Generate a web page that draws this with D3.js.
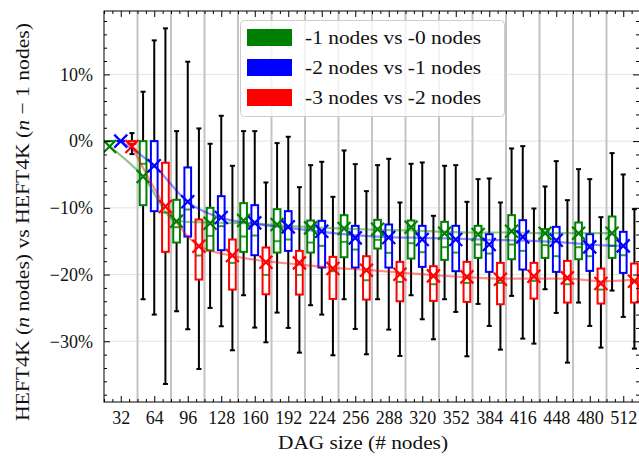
<!DOCTYPE html>
<html>
<head>
<meta charset="utf-8">
<script src="https://cdn.jsdelivr.net/npm/d3@7"></script>
<style>
  body { margin: 0; background: #fff; }
</style>
</head>
<body>
<div id="chart"></div>
<script>
// DAG sizes on the x axis, one group of three boxes per size
const sizes = [32, 64, 96, 128, 160, 192, 224, 256, 288, 320, 352, 384, 416, 448, 480, 512]
const separators = [48, 80, 112, 144, 176, 208, 240, 272, 304, 336, 368, 400, 432, 464, 496]
const yTicks = [10, 0, -10, -20, -30]
const seriesNames = ["-1 nodes vs -0 nodes", "-2 nodes vs -1 nodes", "-3 nodes vs -2 nodes"]
const seriesColors = ["#008000", "#0000ff", "#ff0000"]

// -1 nodes vs -0 nodes (values in %)
const greenLow  = [0, -23.7, -25.5, -25.0, -23.1, -25.7, -24.6, -23.7, -23.7, -23.1, -23.7, -24.4, -23.2, -22.2, -24.2, -22.4]
const greenQ1   = [0, -9.6, -15.2, -16.4, -16.6, -16.7, -16.7, -17.4, -16.1, -17.6, -17.8, -17.5, -17.7, -17.5, -17.7, -17.5]
const greenMed  = [0, -3.4, -12.9, -14.2, -14.3, -15.0, -15.2, -15.1, -14.8, -15.3, -15.9, -15.5, -15.5, -15.6, -15.9, -15.7]
const greenQ3   = [0, 0, -8.8, -10.0, -9.3, -10.2, -11.9, -11.1, -11.8, -11.9, -12.1, -12.7, -11.1, -13.2, -12.2, -11.3]
const greenHigh = [0, 7.4, 1.5, -0.4, 1.5, -0.3, -3.6, -1.4, -3.6, -3.4, -3.7, -5.7, -1.1, -6.8, -4.2, -1.8]
const greenMean = [-0.8, -5.3, -12.0, -12.3, -11.9, -12.5, -13.0, -13.1, -13.2, -12.9, -13.8, -14.0, -13.5, -13.8, -13.8, -13.8]
const greenTrend = [-0.8, -5.3, -12.0, -12.2, -12.3, -12.6, -12.9, -13.1, -13.3, -13.4, -13.6, -13.7, -13.7, -13.8, -13.8, -13.8]

// -2 nodes vs -1 nodes
const blueLow  = [0, -26.0, -28.2, -27.75, -27.95, -28.0, -26.0, -28.15, -28.25, -26.7, -25.6, -27.7, -29.6, -25.75, -27.7, -26.35]
const blueQ1   = [0, -10.5, -14.3, -16.35, -17.1, -16.45, -18.95, -18.95, -18.95, -18.85, -19.5, -19.6, -19.25, -19.6, -19.45, -19.75]
const blueMed  = [0, 0, -10.25, -12.75, -14.15, -14.75, -15.7, -16.25, -16.75, -16.65, -16.7, -16.85, -16.45, -17.25, -17.25, -17.1]
const blueQ3   = [0, 0, -3.95, -8.25, -9.6, -10.5, -11.95, -12.7, -12.5, -12.7, -12.7, -13.95, -11.85, -12.85, -13.95, -13.6]
const blueHigh = [0, 15.1, 11.9, 3.8, 1.5, 0.65, -3.1, -3.45, -2.65, -3.2, -3.6, -5.6, -0.75, -3.0, -5.7, -5.0]
const blueMean = [0, -3.7, -9.1, -11.45, -12.25, -12.85, -13.5, -14.5, -14.45, -14.75, -14.75, -15.5, -14.35, -14.85, -15.85, -15.7]
const blueTrend = [0, -3.7, -9.1, -11.5, -12.4, -13.0, -13.6, -14.1, -14.4, -14.5, -14.6, -14.8, -14.9, -15.1, -15.5, -15.7]

// -3 nodes vs -2 nodes
const redLow  = [-1.95, -36.4, -34.15, -31.35, -30.15, -31.7, -32.1, -31.95, -32.2, -29.7, -32.25, -31.25, -30.35, -33.2, -30.95, -31.1]
const redQ1   = [-0.4, -16.6, -20.75, -22.25, -22.95, -23.0, -23.65, -23.75, -24.0, -23.95, -24.1, -24.45, -23.6, -24.2, -24.35, -24.2]
const redMed  = [0, -10.7, -17.15, -18.25, -20.05, -20.05, -19.5, -20.85, -21.1, -21.45, -21.25, -21.25, -20.95, -21.45, -22.25, -21.1]
const redQ3   = [0, -3.25, -11.75, -14.75, -15.95, -16.45, -17.35, -17.25, -18.1, -18.75, -18.1, -18.25, -18.25, -17.95, -19.1, -18.35]
const redHigh = [1.2, 16.9, 1.9, -3.7, -6.2, -6.9, -8.35, -7.5, -9.2, -11.2, -9.1, -9.2, -10.1, -8.85, -11.4, -10.2]
const redMean = [-0.8, -9.8, -15.75, -17.15, -18.15, -18.25, -19.1, -19.35, -19.95, -20.2, -20.35, -20.7, -20.25, -20.5, -21.35, -21.0]
const redTrend = [-0.8, -9.8, -15.7, -17.2, -18.0, -18.5, -19.0, -19.3, -19.7, -20.1, -20.4, -20.6, -20.6, -20.6, -21.0, -20.8]

const series = [
    { low: greenLow, q1: greenQ1, med: greenMed, q3: greenQ3, high: greenHigh, mean: greenMean, trend: greenTrend },
    { low: blueLow, q1: blueQ1, med: blueMed, q3: blueQ3, high: blueHigh, mean: blueMean, trend: blueTrend },
    { low: redLow, q1: redQ1, med: redMed, q3: redQ3, high: redHigh, mean: redMean, trend: redTrend }
]

// dimensions
const width = 639, height = 457
const plot = { left: 104, right: 640, top: 11, bottom: 402 }
const font = "'Liberation Serif', 'Times New Roman', serif"

const svg = d3.select("#chart").append("svg")
    .attr("width", width)
    .attr("height", height)
    .style("display", "block")

const x = d3.scaleLinear().domain([16, 528]).range([plot.left, plot.right])
const y = d3.scaleLinear().domain([-39.1, 19.5]).range([plot.bottom, plot.top])

// offset of each series inside a group and box width, in data units
const slot = 32 / 3
const boxW = x(6.4) - x(0)
const capW = 5

svg.append("defs").append("clipPath").attr("id", "clip")
    .append("rect")
    .attr("x", plot.left).attr("y", plot.top)
    .attr("width", plot.right - plot.left).attr("height", plot.bottom - plot.top)

const body = svg.append("g").attr("clip-path", "url(#clip)")

// horizontal grid
body.selectAll(".hgrid").data(yTicks).join("line")
    .attr("x1", plot.left).attr("x2", plot.right)
    .attr("y1", d => y(d)).attr("y2", d => y(d))
    .attr("stroke", "#e4e4e4").attr("stroke-width", 1)

// gray separators between groups
body.selectAll(".sep").data(separators).join("line")
    .attr("x1", d => x(d)).attr("x2", d => x(d))
    .attr("y1", plot.top).attr("y2", plot.bottom)
    .attr("stroke", "#c4c4c4").attr("stroke-width", 2)

series.forEach(function(s, si) {
    const cx = i => x(sizes[i] + (si - 1) * slot)
    const g = body.append("g")
    sizes.forEach(function(size, i) {
        const xc = cx(i)
        // whiskers
        g.append("line").attr("x1", xc).attr("x2", xc)
            .attr("y1", y(s.q3[i])).attr("y2", y(s.high[i]))
            .attr("stroke", "#000").attr("stroke-width", 2)
        g.append("line").attr("x1", xc).attr("x2", xc)
            .attr("y1", y(s.q1[i])).attr("y2", y(s.low[i]))
            .attr("stroke", "#000").attr("stroke-width", 2)
        if (s.high[i] !== s.q3[i]) {
            g.append("line").attr("x1", xc - capW / 2).attr("x2", xc + capW / 2)
                .attr("y1", y(s.high[i])).attr("y2", y(s.high[i]))
                .attr("stroke", "#000").attr("stroke-width", 2)
        }
        if (s.low[i] !== s.q1[i]) {
            g.append("line").attr("x1", xc - capW / 2).attr("x2", xc + capW / 2)
                .attr("y1", y(s.low[i])).attr("y2", y(s.low[i]))
                .attr("stroke", "#000").attr("stroke-width", 2)
        }
        // median
        g.append("line").attr("x1", xc - boxW / 2).attr("x2", xc + boxW / 2)
            .attr("y1", y(s.med[i])).attr("y2", y(s.med[i]))
            .attr("stroke", "#2ca02c").attr("stroke-width", 2)
        // box
        g.append("rect")
            .attr("x", xc - boxW / 2).attr("width", boxW)
            .attr("y", y(s.q3[i])).attr("height", Math.max(y(s.q1[i]) - y(s.q3[i]), 0.01))
            .attr("fill", "none")
            .attr("stroke", seriesColors[si]).attr("stroke-width", 2)
    })
})

// trend lines through the means
series.forEach(function(s, si) {
    body.append("path")
        .datum(sizes.map((d, i) => ({ x: d + (si - 1) * slot, v: s.trend[i] })))
        .attr("fill", "none")
        .attr("stroke", seriesColors[si])
        .attr("stroke-opacity", 0.45)
        .attr("stroke-width", 2.2)
        .attr("d", d3.line().curve(d3.curveMonotoneX)
            .x(d => x(d.x)).y(d => y(d.v)))
})

// mean markers
series.forEach(function(s, si) {
    const m = 6.5
    sizes.forEach(function(size, i) {
        const xc = x(size + (si - 1) * slot), yc = y(s.mean[i])
        body.append("path")
            .attr("d", `M${xc - m},${yc - m}L${xc + m},${yc + m}M${xc - m},${yc + m}L${xc + m},${yc - m}`)
            .attr("stroke", seriesColors[si]).attr("stroke-width", 2.2).attr("fill", "none")
    })
})

// axes, ticks pointing inside
const minorX = d3.range(16, 529, 8).filter(d => !sizes.includes(d))
const minorY = d3.range(-38, 20, 2).filter(d => !yTicks.includes(d))
const fmtPct = d => (d < 0 ? "\u2212" : "") + Math.abs(d) + "%"

function styleAxis(g) {
    g.select(".domain").remove()
    g.attr("font-family", font).attr("font-size", 18)
    g.selectAll("line").attr("stroke", "#000")
    g.selectAll("text").attr("fill", "#111")
}

svg.append("g").attr("transform", `translate(0,${plot.bottom})`)
    .call(d3.axisBottom(x).tickValues(sizes).tickSize(-6).tickPadding(9).tickFormat(d3.format("d")))
    .call(styleAxis)
svg.append("g").attr("transform", `translate(0,${plot.bottom})`)
    .call(d3.axisBottom(x).tickValues(minorX).tickSize(-3).tickFormat(""))
    .call(styleAxis)
svg.append("g").attr("transform", `translate(0,${plot.top})`)
    .call(d3.axisTop(x).tickValues(sizes).tickSize(-6).tickFormat(""))
    .call(styleAxis)
svg.append("g").attr("transform", `translate(0,${plot.top})`)
    .call(d3.axisTop(x).tickValues(minorX).tickSize(-3).tickFormat(""))
    .call(styleAxis)

svg.append("g").attr("transform", `translate(${plot.left},0)`)
    .call(d3.axisLeft(y).tickValues(yTicks).tickSize(-6).tickPadding(11).tickFormat(fmtPct))
    .call(styleAxis)
svg.append("g").attr("transform", `translate(${plot.left},0)`)
    .call(d3.axisLeft(y).tickValues(minorY).tickSize(-3).tickFormat(""))
    .call(styleAxis)
svg.append("g").attr("transform", `translate(${plot.right - 1},0)`)
    .call(d3.axisRight(y).tickValues(yTicks).tickSize(-6).tickFormat(""))
    .call(styleAxis)
svg.append("g").attr("transform", `translate(${plot.right - 1},0)`)
    .call(d3.axisRight(y).tickValues(minorY).tickSize(-3).tickFormat(""))
    .call(styleAxis)

// frame
svg.append("rect")
    .attr("x", plot.left).attr("y", plot.top)
    .attr("width", plot.right - plot.left).attr("height", plot.bottom - plot.top)
    .attr("fill", "none").attr("stroke", "#000").attr("stroke-width", 1)

// legend
const legend = svg.append("g").attr("transform", "translate(240.5,20.5)")
legend.append("rect")
    .attr("width", 264).attr("height", 96).attr("rx", 4)
    .attr("fill", "#fff").attr("fill-opacity", 0.8)
    .attr("stroke", "#cccccc").attr("stroke-width", 1)
seriesNames.forEach(function(name, i) {
    legend.append("rect")
        .attr("x", 6.5).attr("y", 8.5 + i * 30)
        .attr("width", 45).attr("height", 17)
        .attr("fill", seriesColors[i])
    legend.append("text")
        .attr("x", 64.5).attr("y", 23 + i * 30)
        .attr("font-family", font).attr("font-size", 19)
        .attr("textLength", 176).attr("lengthAdjust", "spacingAndGlyphs")
        .attr("fill", "#111")
        .text(name)
})

// axis titles
svg.append("text")
    .attr("x", 363).attr("y", 449)
    .attr("text-anchor", "middle")
    .attr("font-family", font).attr("font-size", 19).attr("fill", "#111")
    .attr("textLength", 170).attr("lengthAdjust", "spacingAndGlyphs")
    .text("DAG size (# nodes)")

const yLabel = svg.append("text")
    .attr("transform", "translate(29,222) rotate(-90)")
    .attr("text-anchor", "middle")
    .attr("font-family", font).attr("font-size", 19).attr("fill", "#111")
    .attr("textLength", 398).attr("lengthAdjust", "spacingAndGlyphs")
yLabel.append("tspan").text("HEFT4K (")
yLabel.append("tspan").attr("font-style", "italic").text("n")
yLabel.append("tspan").text(" nodes) vs HEFT4K (")
yLabel.append("tspan").attr("font-style", "italic").text("n")
yLabel.append("tspan").text(" \u2212 1 nodes)")
</script>
</body>
</html>
